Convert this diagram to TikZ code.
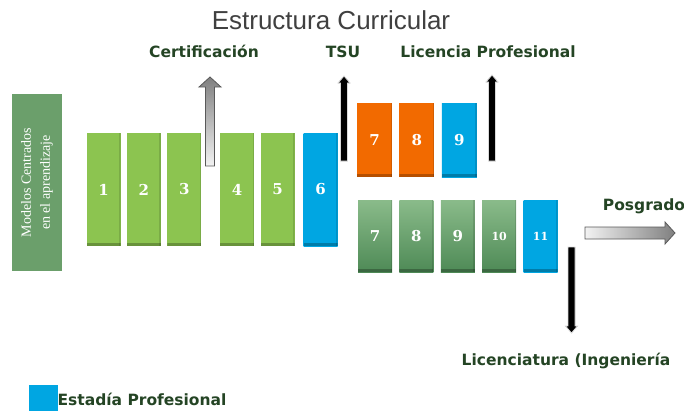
\documentclass[tikz,border=0pt]{standalone}
\usepackage{fontspec}
\usetikzlibrary{positioning}

\newfontfamily\titlefont{Liberation Sans}
\newfontfamily\labelfont{DejaVu Sans}
\newfontfamily\boxfont{DejaVu Serif}
\newfontfamily\modelfont{Liberation Serif}

\definecolor{semgreen}{HTML}{8CC450}
\definecolor{semblue}{HTML}{00A6E2}
\definecolor{semorange}{HTML}{F26A00}
\definecolor{ingtop}{HTML}{8ABB8A}
\definecolor{ingbottom}{HTML}{4E8A56}
\definecolor{modelgreen}{HTML}{6B9F6B}
\definecolor{labeltext}{HTML}{244424}
\definecolor{titlegray}{HTML}{404040}

\tikzset{
  bevel/.style={path picture={
    \fill[black,opacity=.25] (path picture bounding box.south west) rectangle ([yshift=3pt]path picture bounding box.south east);
    \fill[black,opacity=.12] ([xshift=-1.5pt]path picture bounding box.north east) rectangle (path picture bounding box.south east);}},
  sem/.style={bevel,inner sep=0pt,minimum width=34pt,minimum height=113pt,fill=semgreen,
    text=white,font=\boxfont\bfseries\fontsize{15}{15}\selectfont},
  tsu/.style={bevel,inner sep=0pt,minimum width=35pt,minimum height=74pt,fill=semorange,
    text=white,font=\boxfont\bfseries\fontsize{15}{15}\selectfont},
  ing/.style={bevel,inner sep=0pt,minimum width=34pt,minimum height=72pt,top color=ingtop,bottom color=ingbottom,
    text=white,font=\boxfont\bfseries\fontsize{15}{15}\selectfont},
  estadia/.style={fill=semblue,top color=semblue,bottom color=semblue},
  grado/.style={anchor=base,text=labeltext,font=\labelfont\bfseries\fontsize{15.5}{18}\selectfont},
  grisarrow/.style={draw=black!65,line width=0.8pt},
  negroarrow/.style={fill=black,draw=black!15,line width=0.8pt}
}

\begin{document}
\begin{tikzpicture}[x=1pt,y=-1pt]
\useasboundingbox (0,0) rectangle (684,410);

\node[anchor=base,text=titlegray,font=\titlefont\fontsize{26}{28}\selectfont] (title) at (331,29) {Estructura Curricular};

% modelo educativo
\node[fill=modelgreen,rotate=90,minimum width=177pt,minimum height=50pt,inner sep=0pt,
  text=white,align=center,font=\modelfont\fontsize{14}{19}\selectfont] (modelo) at (37,182.5)
  {Modelos Centrados\\en el aprendizaje};

% cuatrimestres TSU
\node[sem] (s1) at (103.5,189.5) {1};
\node[sem,right=6pt of s1] (s2) {2};
\node[sem,right=6pt of s2] (s3) {3};
\node[sem,right=18.5pt of s3] (s4) {4};
\node[sem,right=6pt of s4] (s5) {5};
\node[sem,estadia,right=8.5pt of s5] (s6) {6};

% licencia profesional
\node[tsu] (lp7) at (374.5,140) {7};
\node[tsu,right=7pt of lp7] (lp8) {8};
\node[tsu,estadia,right=7pt of lp8] (lp9) {9};

% licenciatura
\node[ing] (li7) at (375,236) {7};
\node[ing,right=7pt of li7] (li8) {8};
\node[ing,right=7pt of li8] (li9) {9};
\node[ing,right=7pt of li9,font=\boxfont\bfseries\fontsize{11}{11}\selectfont] (li10) {10};
\node[ing,estadia,right=7pt of li10,font=\boxfont\bfseries\fontsize{11}{11}\selectfont] (li11) {11};

% salidas
\node[grado] (cert) at (204,57) {Certificación};
\node[grado] (tsulabel) at (343,57) {TSU};
\node[grado] (licprof) at (488,57) {Licencia Profesional};
\node[grado] (posgrado) at (644,210) {Posgrado};
\node[grado] (ingenieria) at (566,365) {Licenciatura (Ingeniería};

\draw[grisarrow,top color=black!50,bottom color=black!5]
  (205.5,166) -- (205.5,87) -- (199,87) -- (210,77) -- (221,87) -- (214.5,87) -- (214.5,166) -- cycle;
\draw[negroarrow] (340.5,161) -- (340.5,83) -- (338,83) -- (344,76) -- (350,83) -- (347.5,83) -- (347.5,161) -- cycle;
\draw[negroarrow] (488.5,161) -- (488.5,82) -- (486,82) -- (492,75) -- (498,82) -- (495.5,82) -- (495.5,161) -- cycle;
\draw[negroarrow] (568,247) -- (568,326) -- (565.5,326) -- (571.5,333) -- (577.5,326) -- (575,326) -- (575,247) -- cycle;
\draw[grisarrow,left color=black!5,right color=black!50]
  (585,227) -- (665,227) -- (665,222) -- (675,233) -- (665,244) -- (665,239) -- (585,239) -- cycle;

% leyenda
\node[fill=semblue,minimum width=29pt,minimum height=26pt,inner sep=0pt] (leyenda) at (43.5,398) {};
\node[grado] (estadialabel) at (142,405) {Estadía Profesional};
\end{tikzpicture}
\end{document}
